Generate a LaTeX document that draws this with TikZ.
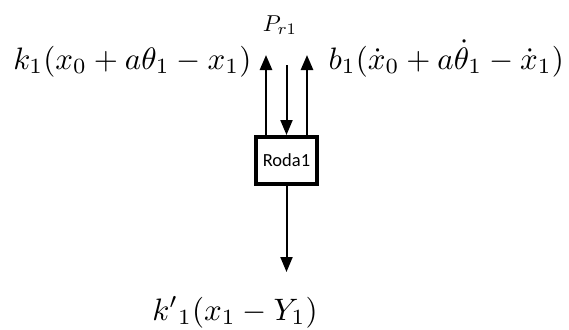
\documentclass[tikz,border=0pt]{standalone}
\usepackage{fontspec}
\newfontfamily\rodafont{Carlito}
\usetikzlibrary{arrows.meta, positioning}
\tikzset{
  box/.style={rectangle,draw,line width=4pt,minimum width=61pt,minimum height=47pt,inner sep=0pt,font=\rodafont\fontsize{18.5}{22}\selectfont},
  force/.style={-{Triangle[length=15pt,width=12pt]},line width=2.6pt},
  thinforce/.style={-{Triangle[length=15pt,width=12pt]},line width=2pt},
  eqn/.style={inner sep=0pt,scale=3.1,transform shape},
  smalleqn/.style={inner sep=0pt,scale=2.3,transform shape}
}

\begin{document}
\begin{tikzpicture}[x=1pt,y=1pt]
\useasboundingbox (0,0) rectangle (569,-329);
\node[box] (roda) at (286.5,-160.5) {Roda1};
\coordinate (kTip) at (266,-55);
\coordinate (bTip) at (307,-55);
\coordinate (pTail) at (286.5,-65);
\coordinate (kpTip) at (286.5,-272);
\node[eqn, anchor=base east] (kLbl) at (252,-69) {$k_1(x_0+a\theta_1-x_1)$};
\node[eqn, anchor=base west] (bLbl) at (328,-69) {$b_1(\dot{x}_0+a\dot{\theta}_1-\dot{x}_1)$};
\node[smalleqn] (pLbl) at (280,-25) {$P_{r1}$};
\node[eqn, anchor=base] (kpLbl) at (235,-320) {${k'}_1(x_1-Y_1)$};
\draw[force] (kTip |- roda.north) -- (kTip);
\draw[force] (bTip |- roda.north) -- (bTip);
\draw[thinforce] (pTail) -- (roda.north);
\draw[thinforce] (roda.south) -- (kpTip);
\end{tikzpicture}
\end{document}
